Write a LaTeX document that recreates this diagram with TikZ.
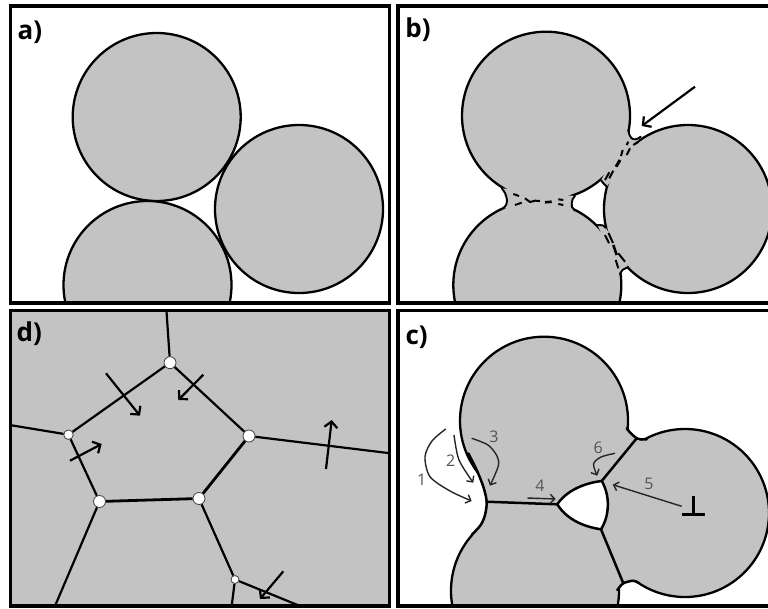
\documentclass[tikz,border=0pt]{standalone}
\usepackage{fontspec}
\setmainfont{Open Sans}
\usetikzlibrary{arrows.meta}
\definecolor{grain}{HTML}{C3C3C3}
\definecolor{numgray}{HTML}{555555}
\tikzset{
  x=1pt,y=-1pt,
  frame/.style={draw=black,line width=3.4pt},
  ball/.style={fill=grain,draw=black,line width=2.3pt},
  edge/.style={draw=black,line width=2.5pt,line cap=round},
  thin edge/.style={draw=black,line width=1.9pt,line cap=round},
  dashbit/.style={draw=black,line width=2pt},
  bigarrow/.style={draw=black,line width=2.2pt,-{Straight Barb[length=6pt,width=13pt]}},
  smallarrow/.style={draw=black!85,line width=1.4pt,-{Straight Barb[length=4.5pt,width=9pt]}},
  joint/.style={circle,fill=white,draw=black!75,line width=.8pt,inner sep=0pt,minimum size=12pt},
  small joint/.style={joint,minimum size=9.5pt},
  tag/.style={font=\bfseries\fontsize{26}{28}\selectfont,anchor=center,inner sep=0pt},
  num/.style={font=\fontsize{16}{18}\selectfont,text=numgray,inner sep=0pt},
}
\begin{document}
\begin{tikzpicture}
\useasboundingbox (0,0) rectangle (768,608);
% panel a
\begin{scope}
  \clip (10.7,6) rectangle (389.5,303);
  \path[ball] (156.7,117) circle[radius=84pt];
  \path[ball] (299,209) circle[radius=84pt];
  \path[ball] (147.5,285) circle[radius=84pt];
\end{scope}
\path[frame] (10.7,6) rectangle (389.5,303);
\node[tag] (la) at (30,32) {a)};
% panel b
\begin{scope}
  \clip (398,6) rectangle (772,303);
  \path[ball] (546,115.7) circle[radius=84pt];
  \path[ball] (688,209) circle[radius=84pt];
  \path[ball] (537.3,285) circle[radius=84pt];
  % left neck
  \fill[grain] plot[smooth] coordinates {(501.7,188.3) (505,193) (507,200) (506,205) (503.3,208.3)}
     -- plot[smooth] coordinates {(575,210.7) (572,207) (571.7,203.3) (572.5,199.5) (575,196)} -- cycle;
  \draw[thin edge] plot[smooth] coordinates {(501.7,188.3) (505,193) (507,200) (506,205) (503.3,208.3)};
  \draw[thin edge] plot[smooth] coordinates {(575,210.7) (572,207) (571.7,203.3) (572.5,199.5) (575,196)};
  % upper right neck
  \fill[grain] plot[smooth] coordinates {(628.3,130) (629.5,135) (632,138.5) (636,139.3) (640.7,136.7)}
     -- plot[smooth] coordinates {(607,186.5) (604.5,184.5) (601,180.3)} -- cycle;
  \draw[thin edge] plot[smooth] coordinates {(628.3,130) (629.5,135) (632,138.5) (636,139.3) (640.7,136.7)};
  \draw[thin edge] plot[smooth] coordinates {(607,186.5) (604.5,184.5) (601,180.3)};
  % lower right neck
  \fill[grain] plot[smooth] coordinates {(597.5,225) (603,225.5) (606,228)}
     -- plot[smooth] coordinates {(628.3,267) (622.5,270) (620,274)} -- cycle;
  \draw[thin edge] plot[smooth] coordinates {(597.5,225) (603,225.5) (606,228)};
  \draw[thin edge] plot[smooth] coordinates {(628.3,267) (622.5,270) (620,274)};
  % dashed boundaries
  \draw[dashbit] (513.3,194) -- (519,196);
  \draw[dashbit] (515,205) -- (521.7,202.7);
  \draw[dashbit] (525,198.3) -- (530,202) -- (535,200.7) -- (540,201);
  \draw[line width=2.6pt] (545,202.3) -- (551.7,201.7);
  \draw[dashbit] (558.3,199.3) -- (563.3,200);
  \draw[dashbit] (558.3,204) -- (563.3,205);
  \draw[dashbit] (628.3,141.7) -- (626.7,145);
  \draw[dashbit] (638.3,141.7) -- (633.3,145);
  \draw[dashbit] (630,148.3) -- (626.7,155);
  \draw[dashbit] (622.7,150) -- (621,156);
  \draw[line width=3pt] (620,160) -- (616,166.7);
  \draw[dashbit] (613.3,170.7) -- (609.3,178.3);
  \draw[dashbit] (609.3,172.3) -- (605,180);
  \draw[dashbit] (605,235) -- (609,243.3);
  \draw[dashbit] (608.5,233) -- (613,243);
  \draw[line width=2.6pt] (613.3,245) -- (616.7,255);
  \draw[dashbit] (618.3,253.3) -- (625,261.7);
  \draw[dashbit] (615.7,260) -- (618.3,268.3);
\end{scope}
\path[frame] (398,6) rectangle (772,303);
\node[tag] (lb) at (418,30) {b)};
\coordinate (barrowstart) at (695,86.7);
\coordinate (barrowend) at (641.7,126);
\draw[bigarrow] (barrowstart) -- (barrowend);
% panel c
\begin{scope}
  \clip (398,310.5) rectangle (772,606);
  \path[ball] (544,420.7) circle[radius=84pt];
  \path[ball] (685,513) circle[radius=84pt];
  \path[ball] (535,590.7) circle[radius=84pt];
  \fill[grain] plot[smooth] coordinates {(468.3,453.3) (476.7,470) (483.3,486.7) (486.7,501.7) (485,515) (480.7,525) (471.7,535)}
     -- (535,560)
     -- plot[smooth] coordinates {(617.3,590) (623.3,583.3) (633.3,580.7) (638.3,582.7)}
     -- (660,520)
     -- plot[smooth] coordinates {(646.7,439.3) (641,439.5) (636.7,438.3) (630,432.5) (626.7,428.3)}
     -- (544,420) -- cycle;
  \draw[edge] plot[smooth] coordinates {(468.3,453.3) (476.7,470) (483.3,486.7) (486.7,501.7) (485,515) (480.7,525) (471.7,535)};
  \draw[edge] plot[smooth] coordinates {(617.3,590) (623.3,583.3) (633.3,580.7) (638.3,582.7)};
  \draw[edge] plot[smooth] coordinates {(646.7,439.3) (641,439.5) (636.7,438.3) (630,432.5) (626.7,428.3)};
  \coordinate (gl) at (486.5,501.7);
  \coordinate (h1) at (557.3,504.3);
  \coordinate (h2) at (601.7,481);
  \coordinate (h3) at (601,529.3);
  \coordinate (gu) at (636.7,438.3);
  \coordinate (gd) at (623.3,583.3);
  \draw[edge] (gl) -- (h1);
  \draw[edge] (h2) -- (gu);
  \draw[edge] (h3) -- (gd);
  \draw[fill=white,draw=black,line width=2.5pt,line join=round] (h1) .. controls (566,491) and (584,483) .. (h2)
     .. controls (610,495) and (610,515) .. (h3)
     .. controls (585,527) and (567,520) .. cycle;
\end{scope}
\path[frame] (398,310.5) rectangle (772,606);
\node[tag] (lc) at (416.7,337) {c)};
\draw[smallarrow] plot[smooth] coordinates {(445.7,429) (432,441) (425,456.7) (430,476.7) (450,491) (471.7,501)};
\draw[smallarrow] plot[smooth] coordinates {(454,435) (459,460) (473.3,482.7)};
\draw[smallarrow] plot[smooth] coordinates {(471.7,438.3) (488,445) (497,456) (498.3,466) (490,485.7)};
\coordinate (a4s) at (527.3,498);
\coordinate (a4e) at (555.7,499);
\draw[smallarrow] (a4s) -- (a4e);
\coordinate (a5s) at (681.7,506.3);
\coordinate (a5e) at (612.7,484.7);
\draw[smallarrow] (a5s) -- (a5e);
\draw[smallarrow] plot[smooth] coordinates {(615,453.3) (601,457) (593.5,464) (597.3,475.7)};
\coordinate (pa) at (681.7,514.7);
\coordinate (pb) at (705,514.7);
\coordinate (pc) at (693.3,495.7);
\coordinate (pd) at (693.3,514.7);
\draw[line width=2.6pt] (pa) -- (pb);
\draw[line width=2.6pt] (pc) -- (pd);
\node[num] (n1) at (421.7,479.7) {1};
\node[num] (n2) at (450.7,460.7) {2};
\node[num] (n3) at (494,436.7) {3};
\node[num] (n4) at (540,485.7) {4};
\node[num] (n5) at (649,484) {5};
\node[num] (n6) at (598.3,447.3) {6};
% panel d
\fill[grain] (10.7,310.5) rectangle (389.5,606);
\coordinate (dt) at (166.5,311);
\coordinate (dl) at (11.5,425.3);
\coordinate (dr) at (388,453);
\coordinate (db) at (55,606);
\coordinate (dfb) at (231.7,606);
\coordinate (dfr) at (300,606);
\node[joint] (A) at (170,362.7) {};
\node[small joint] (B) at (68.5,434.7) {};
\node[joint] (C) at (249,436) {};
\node[joint] (D) at (99.5,501.5) {};
\node[joint] (E) at (199,498.5) {};
\node[small joint,minimum size=8pt] (F) at (235,579.5) {};
\draw[edge,line cap=butt,line width=2.2pt] (A) -- (dt) (B) -- (dl) (C) -- (dr) (D) -- (db) (F) -- (dfb) (F) -- (dfr);
\draw[edge,line cap=butt,line width=2.2pt] (A) -- (B) (A) -- (C) (B) -- (D) (E) -- (F);
\draw[edge,line cap=butt,line width=2.8pt] (C) -- (E) (D) -- (E);
\draw[bigarrow] (106,373.3) -- (140,415.7);
\draw[bigarrow] (203.3,374.7) -- (178.3,400);
\draw[bigarrow] (70,460.7) -- (101.7,444);
\draw[bigarrow] (326,469) -- (331.7,420);
\draw[bigarrow] (283.3,571.3) -- (260,599);
\path[frame] (10.7,310.5) rectangle (389.5,606);
\node[tag] (ld) at (29.3,334) {d)};
\end{tikzpicture}
\end{document}
